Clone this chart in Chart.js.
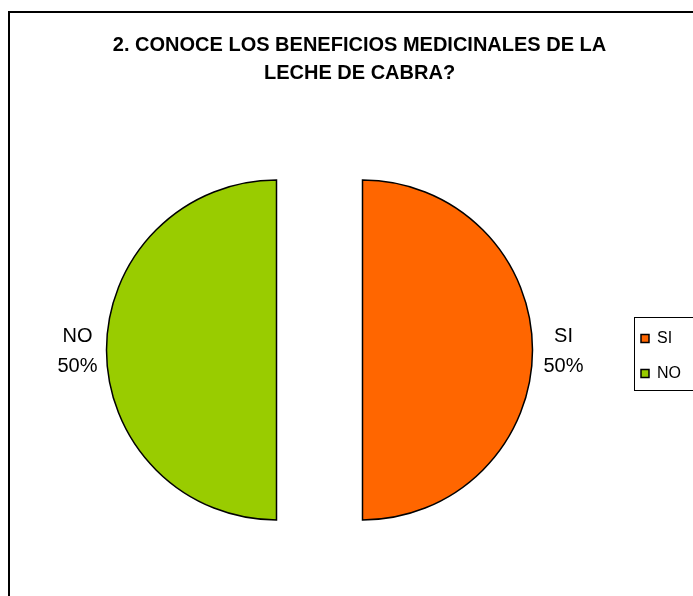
<!DOCTYPE html>
<html>
<head>
<meta charset="utf-8">
<script src="https://cdn.jsdelivr.net/npm/chart.js@4"></script>
<style>
  html, body { margin: 0; padding: 0; background: #fff; overflow: hidden; width: 693px; height: 596px; }
  .frame { position: absolute; left: 8px; top: 11px; width: 800px; height: 700px; border: 2px solid #000; }
  #pie { position: absolute; left: 0; top: 0; }
</style>
</head>
<body>
<div class="frame"></div>
<canvas id="pie" width="718" height="596"></canvas>
<script>
const labels = ['SI', 'NO']
const values = [50, 50]
const colors = ['#FF6600', '#99CC00']
// two leading nbsp nudge the centred title right, as in the original
const titleLines = ['\u00a0\u00a02. CONOCE LOS BENEFICIOS MEDICINALES DE LA', '\u00a0\u00a0LECHE DE CABRA?']

const FONT = '"Liberation Sans", Arial, sans-serif'
const EXPLODE = 43

// chart.js trims the angle of offset slices, so the exploded halves
// are drawn here from the arc elements it laid out
const explodedSlices = {
  id: 'explodedSlices',
  beforeDatasetDraw(chart, args) {
    const ctx = chart.ctx
    args.meta.data.forEach(arc => {
      const o = arc.options
      const mid = (arc.startAngle + arc.endAngle) / 2
      ctx.save()
      ctx.translate(Math.cos(mid) * EXPLODE, Math.sin(mid) * EXPLODE)
      ctx.beginPath()
      ctx.moveTo(arc.x, arc.y)
      ctx.arc(arc.x, arc.y, arc.outerRadius, arc.startAngle, arc.endAngle)
      ctx.closePath()
      ctx.fillStyle = o.backgroundColor
      ctx.fill()
      ctx.lineWidth = o.borderWidth
      ctx.strokeStyle = o.borderColor
      ctx.lineJoin = 'miter'
      ctx.stroke()
      ctx.restore()
    })
    return false
  }
}

// labels "SI / 50%" outside each slice
const outsideLabels = {
  id: 'outsideLabels',
  afterDatasetsDraw(chart) {
    const ctx = chart.ctx
    const meta = chart.getDatasetMeta(0)
    const total = values.reduce((a, b) => a + b, 0)
    ctx.save()
    ctx.font = '20px ' + FONT
    ctx.fillStyle = '#000'
    ctx.textAlign = 'center'
    ctx.textBaseline = 'middle'
    meta.data.forEach((arc, i) => {
      const mid = (arc.startAngle + arc.endAngle) / 2
      const r = 244
      const x = arc.x + Math.cos(mid) * r + (i === 1 ? 2 : 0)
      const y = arc.y + Math.sin(mid) * r
      const pct = Math.round(values[i] / total * 100) + '%'
      ctx.fillText(labels[i], x, y - 14)
      ctx.fillText(pct, x, y + 16)
    })
    ctx.restore()
  }
}

// box round the legend, like the spreadsheet one
const legendFrame = {
  id: 'legendFrame',
  afterDraw(chart) {
    const boxes = chart.legend.legendHitBoxes
    if (!boxes || !boxes.length) return
    const first = boxes[0]
    const last = boxes[boxes.length - 1]
    const ctx = chart.ctx
    ctx.save()
    ctx.strokeStyle = '#000'
    ctx.lineWidth = 1
    const left = Math.round(first.left) - 6.5
    const top = Math.round(first.top) - 13.5
    const bottom = Math.round(last.top + last.height) + 8.5
    ctx.strokeRect(left, top, 200, bottom - top)
    ctx.restore()
  }
}

new Chart(document.getElementById('pie'), {
  type: 'pie',
  data: {
    labels: labels,
    datasets: [{
      data: values,
      backgroundColor: colors,
      borderColor: '#000',
      borderWidth: 1.5,
      radius: 170,
    }]
  },
  options: {
    responsive: false,
    animation: false,
    events: [],
    layout: {
      padding: { left: 17, right: 27, top: 0, bottom: 0 }
    },
    plugins: {
      tooltip: { enabled: false },
      title: {
        display: true,
        text: titleLines,
        color: '#000',
        font: { family: FONT, size: 20, weight: 'bold', lineHeight: 1.4 },
        padding: { top: 31, bottom: 17 },
      },
      legend: {
        position: 'right',
        fullSize: false,
        title: { display: true, text: ' ', font: { size: 12, lineHeight: 1 }, padding: 0 },
        labels: {
          boxWidth: 8,
          boxHeight: 8,
          padding: 19,
          color: '#000',
          font: { family: FONT, size: 16 },
        }
      }
    }
  },
  plugins: [explodedSlices, outsideLabels, legendFrame]
})
</script>
</body>
</html>
